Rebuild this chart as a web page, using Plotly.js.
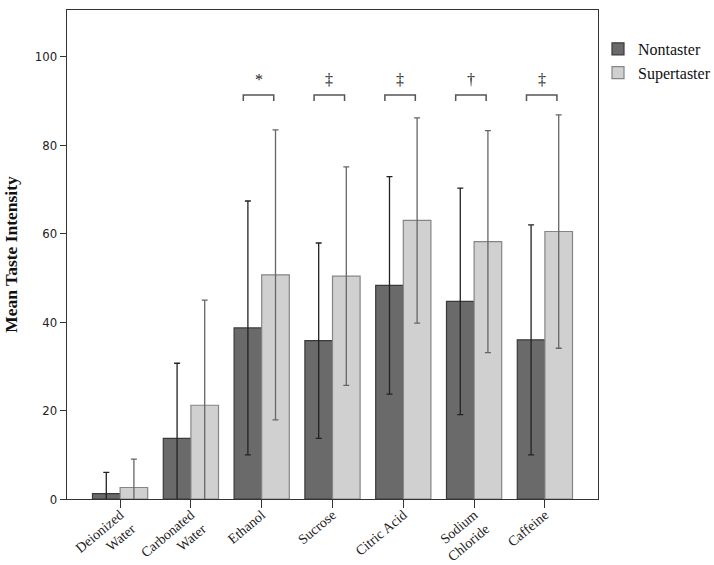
<!DOCTYPE html>
<html>
<head>
<meta charset="utf-8">
<script src="https://cdn.plot.ly/plotly-3.0.1.min.js"></script>
<style>html,body{margin:0;padding:0;background:#fff;}#chart{width:714px;height:565px;}</style>
</head>
<body>
<div id="chart"></div>
<script>
// Data
const categories = ["Deionized<br>Water", "Carbonated<br>Water", "Ethanol", "Sucrose", "Citric Acid", "Sodium<br>Chloride", "Caffeine"];
const nontasterMean = [1.2, 13.7, 38.7, 35.8, 48.3, 44.7, 36.0];
const nontasterErr  = [4.8, 17.0, 28.7, 22.1, 24.6, 25.6, 26.0];
const supertasterMean = [2.6, 21.2, 50.7, 50.4, 63.0, 58.2, 60.5];
const supertasterErr  = [6.4, 23.8, 32.8, 24.7, 23.2, 25.1, 26.4];
const sigIndex = [2, 3, 4, 5, 6];
const sigSymbols = ["*", "‡", "‡", "†", "‡"];
const sigLevel = 91.4;

const idx = categories.map((c, i) => i);
const serif = "Liberation Serif, Times New Roman, serif";

const traces = [
  {
    type: "bar", name: "Nontaster", x: idx, y: nontasterMean,
    marker: {color: "#6a6a6a", line: {color: "#3a3a3a", width: 1.2}},
    error_y: {type: "data", array: nontasterErr, visible: true, color: "#222", thickness: 1.3, width: 3}
  },
  {
    type: "bar", name: "Supertaster", x: idx, y: supertasterMean,
    marker: {color: "#d0d0d0", line: {color: "#858585", width: 1.2}},
    error_y: {type: "data", array: supertasterErr, visible: true, color: "#666", thickness: 1.3, width: 3}
  }
];

// significance brackets
const bx = [], by = [];
sigIndex.forEach(i => {
  bx.push(i - 0.26, i - 0.26, i + 0.17, i + 0.17, null);
  by.push(sigLevel - 1.4, sigLevel, sigLevel, sigLevel - 1.4, null);
});
traces.push({type: "scatter", mode: "lines", x: bx, y: by, showlegend: false, hoverinfo: "skip",
  line: {color: "#555", width: 1.5}});

const annotations = sigIndex.map((i, k) => ({
  x: i - 0.045, y: sigLevel + 1.0, xref: "x", yref: "y", text: sigSymbols[k],
  showarrow: false, yanchor: "bottom", font: {family: serif, size: 16, color: "#222"}
}));

const layout = {
  width: 714, height: 565,
  margin: {l: 67, r: 116, t: 10, b: 66, autoexpand: false},
  paper_bgcolor: "#fff", plot_bgcolor: "#fff",
  barmode: "group", bargap: 0.22, bargroupgap: 0,
  showlegend: true,
  legend: {x: 1.0, y: 0.955, xanchor: "left", yanchor: "top",
    font: {family: serif, size: 16, color: "#111"}, tracegroupgap: 0, itemwidth: 30,
    bgcolor: "rgba(0,0,0,0)"},
  xaxis: {
    range: [-0.75, 6.75], tickvals: idx, ticktext: categories, tickangle: -40,
    showgrid: false, zeroline: false, showline: true, mirror: true, linecolor: "#333", linewidth: 1.3,
    ticks: "outside", ticklen: 8, tickcolor: "#333", automargin: false, ticklabelstandoff: -7,
    tickfont: {family: serif, size: 14, color: "#222"}
  },
  yaxis: {
    range: [0, 110.6], tickvals: [0, 20, 40, 60, 80, 100],
    showgrid: false, zeroline: false, showline: true, mirror: true, linecolor: "#333", linewidth: 1.3,
    ticks: "outside", ticklen: 6, tickcolor: "#333", automargin: false,
    tickfont: {family: "DejaVu Sans Condensed, Liberation Sans Narrow, Liberation Sans, sans-serif", size: 13, color: "#222"},
    title: {text: "<b>Mean Taste Intensity</b>", font: {family: serif, size: 17.5, color: "#111"}, standoff: 12}
  },
  annotations: annotations
};

Plotly.newPlot("chart", traces, layout, {displayModeBar: false, staticPlot: true});
</script>
</body>
</html>
